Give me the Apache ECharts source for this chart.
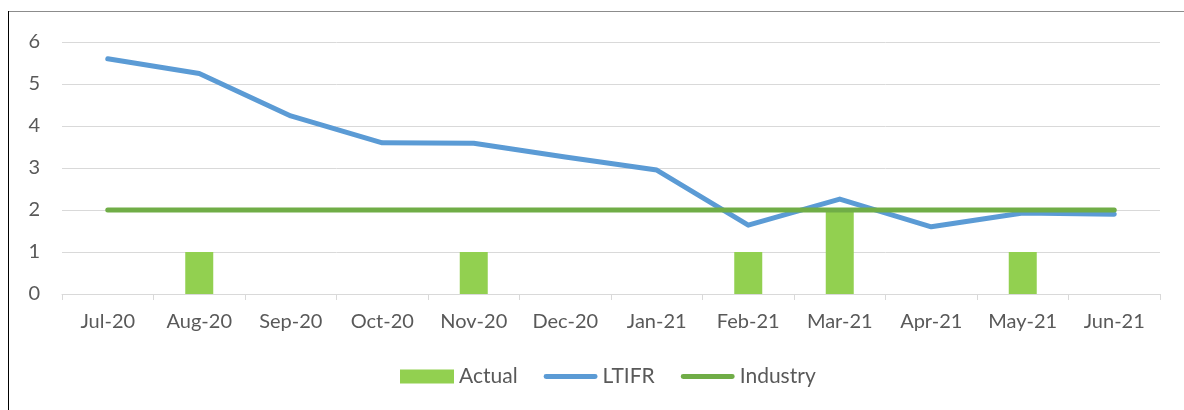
<!DOCTYPE html>
<html>
<head>
<meta charset="utf-8">
<script src="https://cdn.jsdelivr.net/npm/echarts@6/dist/echarts.min.js"></script>
<style>
    html, body { margin: 0; padding: 0; background: #fff; }
    #main { width: 1184px; height: 410px; }
</style>
</head>
<body>
<div id="main"></div>
<script>
var months = ['Jul-20', 'Aug-20', 'Sep-20', 'Oct-20', 'Nov-20', 'Dec-20', 'Jan-21', 'Feb-21', 'Mar-21', 'Apr-21', 'May-21', 'Jun-21'];
var actual = [0, 1, 0, 0, 1, 0, 0, 1, 2, 0, 1, 0];
var ltifr = [5.6, 5.25, 4.24, 3.6, 3.59, 3.26, 2.95, 1.64, 2.26, 1.6, 1.93, 1.9];
var industry = [2, 2, 2, 2, 2, 2, 2, 2, 2, 2, 2, 2];
var yTicks = [0, 1, 2, 3, 4, 5, 6];

var font = 'Lato, "Open Sans", sans-serif';
// 图例里的线条图标（前两个 M 撑开外框，线条居中）
var lineIcon = 'path://M0,0 M54,14 M2,4.5 L52,4.5 A2.5,2.5 0 0 1 52,9.5 L2,9.5 A2.5,2.5 0 0 1 2,4.5 Z';

/**
 * 组合图
 */
var chartSet = function (obj) {
    var myChart = echarts.init(obj),
        option = {
            animation: false,
            textStyle: {fontFamily: font},
            graphic: [
                {type: 'line', shape: {x1: 8, y1: 11.5, x2: 1184, y2: 11.5}, style: {stroke: '#8c8c8c', lineWidth: 1}},
                {type: 'line', shape: {x1: 8.5, y1: 11, x2: 8.5, y2: 410}, style: {stroke: '#000', lineWidth: 1}}
            ],
            legend: {
                bottom: 18,
                left: 395,
                itemGap: 26,
                itemWidth: 54,
                itemHeight: 14,
                textStyle: {fontSize: 21, color: '#595959', fontFamily: font},
                data: [
                    {name: 'Actual', icon: 'rect'},
                    {name: 'LTIFR', icon: lineIcon},
                    {name: 'Industry', icon: lineIcon}
                ]
            },
            grid: {
                left: 62,
                right: 24,
                top: 42,
                bottom: 116
            },
            xAxis: {
                type: 'category',
                data: months,
                axisLine: {lineStyle: {color: '#d9d9d9', width: 1}},
                axisTick: {show: true, length: 6, lineStyle: {color: '#d9d9d9'}},
                axisLabel: {fontSize: 20, color: '#595959', margin: 18, fontFamily: font}
            },
            yAxis: {
                type: 'value',
                min: yTicks[0],
                max: yTicks[yTicks.length - 1],
                interval: 1,
                axisLine: {show: false},
                axisTick: {show: false},
                splitLine: {lineStyle: {color: '#d9d9d9', width: 1}},
                axisLabel: {fontSize: 20, color: '#595959', margin: 22, fontFamily: font}
            },
            series: [
                {
                    name: 'Actual',
                    type: 'bar',
                    data: actual,
                    barWidth: 28,
                    itemStyle: {color: '#92d050'}
                },
                {
                    name: 'LTIFR',
                    type: 'line',
                    data: ltifr,
                    symbol: 'none',
                    lineStyle: {color: '#5b9bd5', width: 5, cap: 'round', join: 'round'},
                    itemStyle: {color: '#5b9bd5'}
                },
                {
                    name: 'Industry',
                    type: 'line',
                    data: industry,
                    symbol: 'none',
                    lineStyle: {color: '#70ad47', width: 5, cap: 'round', join: 'round'},
                    itemStyle: {color: '#70ad47'}
                }
            ]
        };
    myChart.setOption(option);
};

chartSet(document.getElementById('main'));
</script>
</body>
</html>
